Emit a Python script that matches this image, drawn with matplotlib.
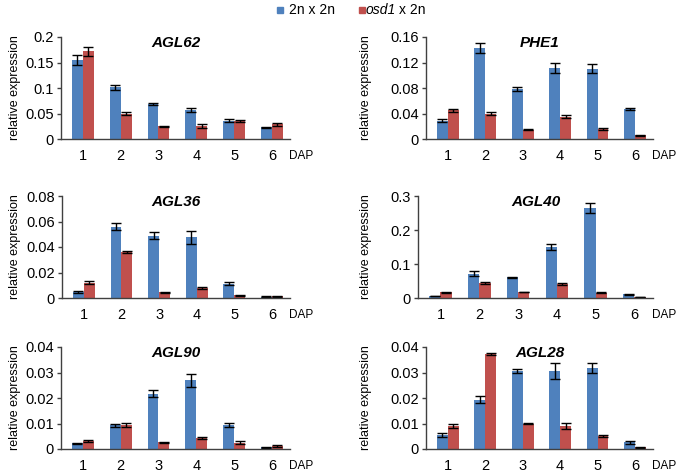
import matplotlib.pyplot as plt
import numpy as np

plt.rcParams['font.family'] = ['Liberation Sans', 'DejaVu Sans']

days = [1, 2, 3, 4, 5, 6]
genes = ['AGL62', 'PHE1', 'AGL36', 'AGL40', 'AGL90', 'AGL28']

# mean values, 2n x 2n (blue) and osd1 x 2n (red)
wt_mean = {
    'AGL62': [0.155, 0.101, 0.068, 0.057, 0.036, 0.023],
    'PHE1': [0.0287, 0.143, 0.079, 0.111, 0.110, 0.0474],
    'AGL36': [0.0047, 0.056, 0.049, 0.0476, 0.0112, 0.001],
    'AGL40': [0.006, 0.071, 0.061, 0.150, 0.265, 0.0108],
    'AGL90': [0.0022, 0.0093, 0.0217, 0.0269, 0.0093, 0.0007],
    'AGL28': [0.0054, 0.0193, 0.0306, 0.0306, 0.0318, 0.0026],
}
wt_err = {
    'AGL62': [0.009, 0.005, 0.002, 0.004, 0.003, 0.001],
    'PHE1': [0.002, 0.0078, 0.003, 0.008, 0.007, 0.002],
    'AGL36': [0.0005, 0.003, 0.0026, 0.005, 0.001, 0.0003],
    'AGL40': [0.001, 0.007, 0.001, 0.010, 0.014, 0.001],
    'AGL90': [0.0003, 0.0005, 0.0013, 0.0026, 0.0008, 0.0002],
    'AGL28': [0.0007, 0.0014, 0.0008, 0.0031, 0.0018, 0.0006],
}
osd_mean = {
    'AGL62': [0.172, 0.050, 0.025, 0.025, 0.036, 0.029],
    'PHE1': [0.0448, 0.0396, 0.0146, 0.035, 0.0156, 0.0057],
    'AGL36': [0.012, 0.0363, 0.0044, 0.0078, 0.002, 0.0013],
    'AGL40': [0.0167, 0.044, 0.0177, 0.041, 0.0157, 0.003],
    'AGL90': [0.003, 0.0095, 0.0027, 0.0044, 0.0025, 0.001],
    'AGL28': [0.009, 0.0373, 0.0099, 0.009, 0.005, 0.0006],
}
osd_err = {
    'AGL62': [0.009, 0.002, 0.001, 0.004, 0.002, 0.003],
    'PHE1': [0.003, 0.002, 0.0005, 0.002, 0.001, 0.001],
    'AGL36': [0.001, 0.0007, 0.0003, 0.001, 0.0003, 0.0004],
    'AGL40': [0.001, 0.004, 0.001, 0.003, 0.001, 0.0005],
    'AGL90': [0.0004, 0.0007, 0.0002, 0.0004, 0.0005, 0.0004],
    'AGL28': [0.0007, 0.0004, 0.0002, 0.0012, 0.0004, 0.0002],
}
yticks = {
    'AGL62': [0, 0.05, 0.1, 0.15, 0.2],
    'PHE1': [0, 0.04, 0.08, 0.12, 0.16],
    'AGL36': [0, 0.02, 0.04, 0.06, 0.08],
    'AGL40': [0, 0.1, 0.2, 0.3],
    'AGL90': [0, 0.01, 0.02, 0.03, 0.04],
    'AGL28': [0, 0.01, 0.02, 0.03, 0.04],
}
ytick_labels = {
    'AGL62': ['0', '0.05', '0.1', '0.15', '0.2'],
    'PHE1': ['0', '0.04', '0.08', '0.12', '0.16'],
    'AGL36': ['0', '0.02', '0.04', '0.06', '0.08'],
    'AGL40': ['0', '0.1', '0.2', '0.3'],
    'AGL90': ['0', '0.01', '0.02', '0.03', '0.04'],
    'AGL28': ['0', '0.01', '0.02', '0.03', '0.04'],
}

BLUE = '#4f81bd'
RED = '#c0504d'
W, H = 678, 474

# axes boxes in pixels: (left, top, right, bottom), plus x of y-label right edge
boxes = {
    'AGL62': (61, 37, 290, 139, 21),
    'PHE1': (426, 37, 653, 139, 372),
    'AGL36': (62, 196, 290, 298, 21),
    'AGL40': (418, 196, 653, 298, 372),
    'AGL90': (61, 347, 290, 449, 21),
    'AGL28': (426, 347, 653, 449, 372),
}

fig = plt.figure(figsize=(W / 100, H / 100), dpi=100)

x = np.array(days, dtype=float)
bw = 0.29
for g in genes:
    l, t, r, b, lab_x = boxes[g]
    ax = fig.add_axes([l / W, 1 - b / H, (r - l) / W, (b - t) / H])
    errkw = dict(ecolor='black', elinewidth=1, capsize=3.5, capthick=1)
    ax.bar(x - bw / 2, wt_mean[g], bw, color=BLUE, yerr=wt_err[g], error_kw=errkw, zorder=2)
    ax.bar(x + bw / 2, osd_mean[g], bw, color=RED, yerr=osd_err[g], error_kw=errkw, zorder=2)
    ax.set_xlim(0.42, 6.48)
    ax.set_ylim(0, yticks[g][-1])
    ax.set_yticks(yticks[g])
    ax.set_yticklabels(ytick_labels[g])
    ax.set_xticks(days)
    ax.set_xticklabels([str(d) for d in days])
    for s in ['top', 'right']:
        ax.spines[s].set_visible(False)
    for s in ['left', 'bottom']:
        ax.spines[s].set_color('#404040')
        ax.spines[s].set_linewidth(1)
    ax.tick_params(axis='y', length=3, width=1, color='#404040', labelsize=10.5, pad=2)
    ax.tick_params(axis='x', length=0, labelsize=10.5, pad=7)
    ax.set_ylabel('relative expression', fontsize=9)
    ax.yaxis.set_label_coords(-(l - lab_x) / (r - l), 0.5)
    ax.text(0.5, 0.94, g, transform=ax.transAxes, ha='center', va='center',
            fontsize=11, fontweight='bold', fontstyle='italic')
    ax.text(0.997, -17 / (b - t), 'DAP', transform=ax.transAxes, ha='left', va='center', fontsize=8.5)

# legend on top
fig.patches.append(plt.Rectangle((277 / W, 1 - 13 / H), 6 / W, 6 / H, color=BLUE,
                                 transform=fig.transFigure, figure=fig))
fig.text(289 / W, 1 - 10 / H, '2n x 2n', ha='left', va='center', fontsize=10)
fig.patches.append(plt.Rectangle((359 / W, 1 - 13 / H), 6 / W, 6 / H, color=RED,
                                 transform=fig.transFigure, figure=fig))
fig.text(366 / W, 1 - 10 / H, 'osd1', ha='left', va='center', fontsize=10, fontstyle='italic')
fig.text(399 / W, 1 - 10 / H, 'x 2n', ha='left', va='center', fontsize=10)

fig.savefig('out.png', dpi=100)
